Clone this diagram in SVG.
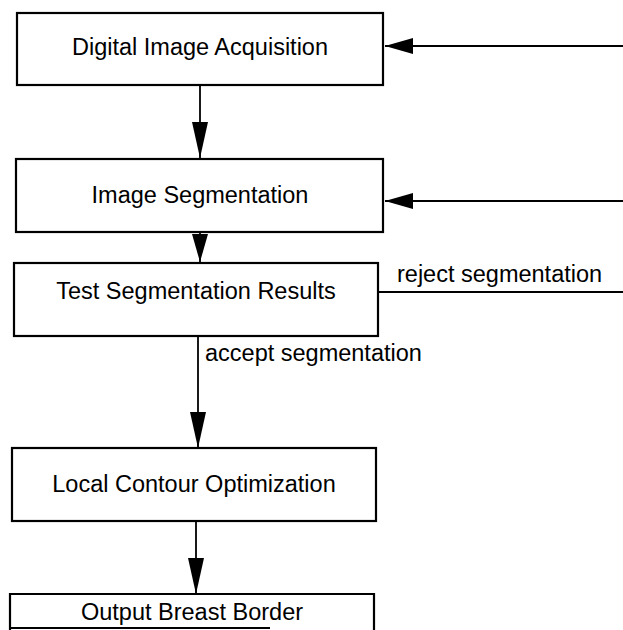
<svg xmlns="http://www.w3.org/2000/svg" width="623" height="630" viewBox="0 0 623 630">
<defs>
<marker id="ahL" markerWidth="28" markerHeight="16" refX="28" refY="8" orient="auto" markerUnits="userSpaceOnUse">
<path d="M0,0 L28,8 L0,16 Z" fill="#000"/>
</marker>
<marker id="ahD" markerWidth="36" markerHeight="16" refX="36" refY="8" orient="auto" markerUnits="userSpaceOnUse">
<path d="M0,0 L36,8 L0,16 Z" fill="#000"/>
</marker>
<marker id="ahS" markerWidth="28" markerHeight="16" refX="28" refY="8" orient="auto" markerUnits="userSpaceOnUse">
<path d="M0,0 L28,8 L0,16 Z" fill="#000"/>
</marker>
</defs>
<style>
.box{fill:#fff;stroke:#000;stroke-width:2.2}
.lbl{font-family:"Liberation Sans",Arial,sans-serif;font-size:23.5px;fill:#000;text-anchor:middle}
.el{font-family:"Liberation Sans",Arial,sans-serif;font-size:23.5px;fill:#000}
.ln{stroke:#000;stroke-width:1.8;fill:none}
</style>
<rect width="623" height="630" fill="#fff"/>
<g id="connectors">
<line class="ln" x1="623" y1="46" x2="385" y2="46" marker-end="url(#ahL)"/>
<line class="ln" x1="623" y1="201" x2="385" y2="201" marker-end="url(#ahL)"/>
<line class="ln" x1="378" y1="292" x2="623" y2="292"/>
<text class="el" x="397" y="282">reject segmentation</text>
<line class="ln" x1="200" y1="85" x2="200" y2="158" marker-end="url(#ahD)"/>
<line class="ln" x1="200" y1="232" x2="200" y2="262" marker-end="url(#ahS)"/>
<line class="ln" x1="198" y1="336" x2="198" y2="448" marker-end="url(#ahD)"/>
<text class="el" x="205" y="361">accept segmentation</text>
<line class="ln" x1="196" y1="521" x2="196" y2="594" marker-end="url(#ahD)"/>
</g>
<g id="n1">
<rect class="box" x="17" y="13" width="366" height="72"/>
<text class="lbl" x="200" y="55">Digital Image Acquisition</text>
</g>
<g id="n2">
<rect class="box" x="16" y="159" width="367" height="73"/>
<text class="lbl" x="200" y="203">Image Segmentation</text>
</g>
<g id="n3">
<rect class="box" x="14" y="263" width="364" height="73"/>
<text class="lbl" x="196" y="299">Test Segmentation Results</text>
</g>
<g id="n4">
<rect class="box" x="12" y="448" width="364" height="73"/>
<text class="lbl" x="194" y="492">Local Contour Optimization</text>
</g>
<g id="n5">
<path class="box" d="M10,630 L10,594 L374,594 L374,630"/>
<line class="ln" x1="10" y1="628" x2="270" y2="628" stroke-width="2.2"/>
<text class="lbl" x="192" y="620">Output Breast Border</text>
</g>
</svg>
